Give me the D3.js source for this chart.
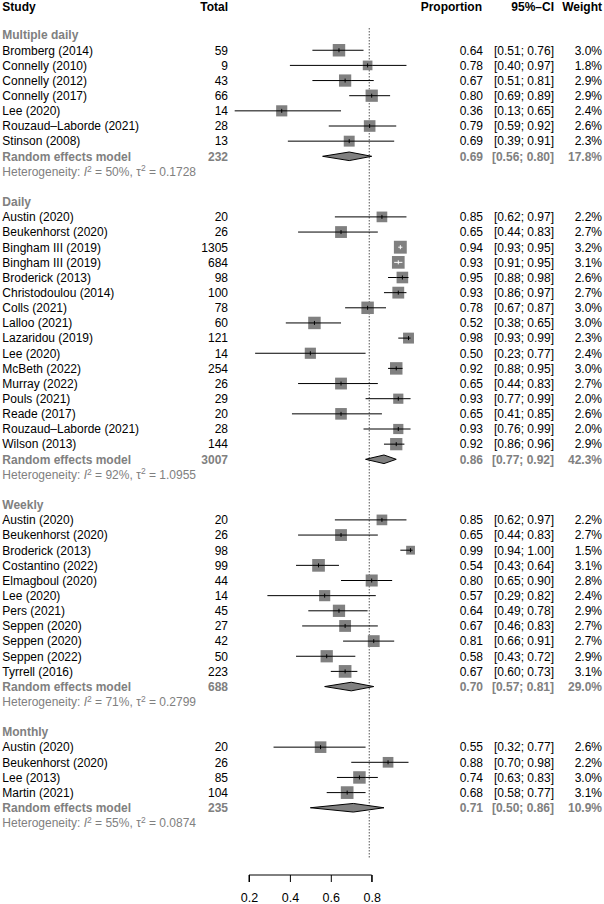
<!DOCTYPE html>
<html><head><meta charset="utf-8">
<script src="https://cdn.jsdelivr.net/npm/d3@7"></script>
<style>
html,body{margin:0;padding:0;background:#fff;}
svg{display:block;font-family:"Liberation Sans",Arial,Helvetica,sans-serif;}
</style></head>
<body>
<script>
// ---------- DATA ----------
const groups = ["Multiple daily", "Daily", "Weekly", "Monthly"];

const mdStudies = ["Bromberg (2014)","Connelly (2010)","Connelly (2012)","Connelly (2017)","Lee (2020)","Rouzaud\u2013Laborde (2021)","Stinson (2008)"];
const mdTotal   = [59, 9, 43, 66, 14, 28, 13];
const mdProp    = [0.64, 0.78, 0.67, 0.80, 0.36, 0.79, 0.69];
const mdLow     = [0.51, 0.40, 0.51, 0.69, 0.13, 0.59, 0.39];
const mdHigh    = [0.76, 0.97, 0.81, 0.89, 0.65, 0.92, 0.91];
const mdWeight  = [3.0, 1.8, 2.9, 2.9, 2.4, 2.6, 2.3];

const dStudies = ["Austin (2020)","Beukenhorst (2020)","Bingham III (2019)","Bingham III (2019)","Broderick (2013)","Christodoulou (2014)","Colls (2021)","Lalloo (2021)","Lazaridou (2019)","Lee (2020)","McBeth (2022)","Murray (2022)","Pouls (2021)","Reade (2017)","Rouzaud\u2013Laborde (2021)","Wilson (2013)"];
const dTotal   = [20, 26, 1305, 684, 98, 100, 78, 60, 121, 14, 254, 26, 29, 20, 28, 144];
const dProp    = [0.85, 0.65, 0.94, 0.93, 0.95, 0.93, 0.78, 0.52, 0.98, 0.50, 0.92, 0.65, 0.93, 0.65, 0.93, 0.92];
const dLow     = [0.62, 0.44, 0.93, 0.91, 0.88, 0.86, 0.67, 0.38, 0.93, 0.23, 0.88, 0.44, 0.77, 0.41, 0.76, 0.86];
const dHigh    = [0.97, 0.83, 0.95, 0.95, 0.98, 0.97, 0.87, 0.65, 0.99, 0.77, 0.95, 0.83, 0.99, 0.85, 0.99, 0.96];
const dWeight  = [2.2, 2.7, 3.2, 3.1, 2.6, 2.7, 3.0, 3.0, 2.3, 2.4, 3.0, 2.7, 2.0, 2.6, 2.0, 2.9];

const wStudies = ["Austin (2020)","Beukenhorst (2020)","Broderick (2013)","Costantino (2022)","Elmagboul (2020)","Lee (2020)","Pers (2021)","Seppen (2020)","Seppen (2020)","Seppen (2022)","Tyrrell (2016)"];
const wTotal   = [20, 26, 98, 99, 44, 14, 45, 27, 42, 50, 223];
const wProp    = [0.85, 0.65, 0.99, 0.54, 0.80, 0.57, 0.64, 0.67, 0.81, 0.58, 0.67];
const wLow     = [0.62, 0.44, 0.94, 0.43, 0.65, 0.29, 0.49, 0.46, 0.66, 0.43, 0.60];
const wHigh    = [0.97, 0.83, 1.00, 0.64, 0.90, 0.82, 0.78, 0.83, 0.91, 0.72, 0.73];
const wWeight  = [2.2, 2.7, 1.5, 3.1, 2.8, 2.4, 2.9, 2.7, 2.7, 2.9, 3.1];

const mStudies = ["Austin (2020)","Beukenhorst (2020)","Lee (2013)","Martin (2021)"];
const mTotal   = [20, 26, 85, 104];
const mProp    = [0.55, 0.88, 0.74, 0.68];
const mLow     = [0.32, 0.70, 0.63, 0.58];
const mHigh    = [0.77, 0.98, 0.83, 0.77];
const mWeight  = [2.6, 2.2, 3.0, 3.1];

const reTotal  = [232, 3007, 688, 235];
const reProp   = [0.69, 0.86, 0.70, 0.71];
const reLow    = [0.56, 0.77, 0.57, 0.50];
const reHigh   = [0.80, 0.92, 0.81, 0.86];
const reWeight = [17.8, 42.3, 29.0, 10.9];
const hetI2    = ["50%", "92%", "71%", "55%"];
const hetTau2  = ["0.1728", "1.0955", "0.2799", "0.0874"];

const overallEstimate = 0.788;
const tickValues = [0.2, 0.4, 0.6, 0.8];

// ---------- BUILD ROWS ----------
const studySets = [
  [mdStudies, mdTotal, mdProp, mdLow, mdHigh, mdWeight],
  [dStudies, dTotal, dProp, dLow, dHigh, dWeight],
  [wStudies, wTotal, wProp, wLow, wHigh, wWeight],
  [mStudies, mTotal, mProp, mLow, mHigh, mWeight]
];
const rows = [];
rows.push({type:"header"});
groups.forEach((g, gi) => {
  rows.push({type:"blank"});
  rows.push({type:"group", label:g});
  const [s, t, p, lo, hi, w] = studySets[gi];
  s.forEach((name, i) => rows.push({type:"study", label:name, total:t[i], prop:p[i], low:lo[i], high:hi[i], weight:w[i]}));
  rows.push({type:"re", label:"Random effects model", total:reTotal[gi], prop:reProp[gi], low:reLow[gi], high:reHigh[gi], weight:reWeight[gi]});
  rows.push({type:"het", i2:hetI2[gi], tau2:hetTau2[gi]});
});

// ---------- LAYOUT ----------
const W = 604, H = 904;
const fs = 12;
const y = d3.scaleLinear().domain([0, 1]).range([4.8, 4.8 + 15.15]);
const x = d3.scaleLinear().domain([0.2, 0.8]).range([249, 371.7]);
const gray = "#808080";
const fmt2 = d3.format(".2f");
const fmtW = d3.format(".1f");

const svg = d3.select("body").append("svg").attr("width", W).attr("height", H);

// reference line
svg.append("line")
  .attr("x1", x(overallEstimate)).attr("x2", x(overallEstimate))
  .attr("y1", 28).attr("y2", 858)
  .attr("stroke", "#555").attr("stroke-width", 1).attr("stroke-dasharray", "1.5,1.5");

const colStudy = 2.3, colTotal = 228, colProp = 483, colCI = 554, colW = 602;

rows.forEach((r, i) => {
  const yc = r.type === "header" ? 7 : y(i);
  const g = svg.append("g").attr("transform", `translate(0,${yc})`);
  const txt = (xx, s, anchor, opts = {}) => g.append("text")
      .attr("x", xx).attr("dy", "0.36em")
      .attr("text-anchor", anchor)
      .attr("font-size", opts.size || fs)
      .attr("font-weight", opts.bold ? "bold" : "normal")
      .attr("fill", opts.fill || "#000")
      .text(s);
  if (r.type === "header") {
    txt(colStudy, "Study", "start", {bold:true});
    txt(colTotal, "Total", "end", {bold:true});
    txt(colProp - 1, "Proportion", "end", {bold:true});
    txt(colCI, "95%\u2013CI", "end", {bold:true});
    txt(colW, "Weight", "end", {bold:true});
  } else if (r.type === "group") {
    txt(colStudy, r.label, "start", {bold:true, fill:gray});
  } else if (r.type === "study") {
    txt(colStudy, r.label, "start");
    txt(colTotal, r.total, "end");
    txt(colProp, fmt2(r.prop), "end");
    txt(colCI, `[${fmt2(r.low)}; ${fmt2(r.high)}]`, "end");
    txt(colW, fmtW(r.weight) + "%", "end");
    // CI line
    g.append("line").attr("x1", x(r.low)).attr("x2", x(r.high)).attr("y1", 0).attr("y2", 0)
      .attr("stroke", "#000").attr("stroke-width", 1);
    const s = 7.2 * Math.sqrt(r.weight);
    g.append("rect").attr("x", x(r.prop) - s/2).attr("y", -s/2).attr("width", s).attr("height", s)
      .attr("fill", gray);
    const inside = x(r.low) >= x(r.prop) - s/2 && x(r.high) <= x(r.prop) + s/2;
    const c = inside ? "#fff" : "#000";
    g.append("line").attr("x1", Math.max(x(r.low), x(r.prop) - s/2)).attr("x2", Math.min(x(r.high), x(r.prop) + s/2))
      .attr("y1", 0).attr("y2", 0).attr("stroke", c).attr("stroke-width", 1);
    g.append("line").attr("x1", x(r.prop)).attr("x2", x(r.prop)).attr("y1", -2).attr("y2", 2)
      .attr("stroke", c).attr("stroke-width", 1);
  } else if (r.type === "re") {
    txt(colStudy, r.label, "start", {bold:true, fill:gray});
    txt(colTotal, r.total, "end", {bold:true, fill:gray});
    txt(colProp, fmt2(r.prop), "end", {bold:true, fill:gray});
    txt(colCI, `[${fmt2(r.low)}; ${fmt2(r.high)}]`, "end", {bold:true, fill:gray});
    txt(colW, fmtW(r.weight) + "%", "end", {bold:true, fill:gray});
    const h = 4.3;
    g.append("path")
      .attr("d", `M${x(r.low)},0 L${x(r.prop)},${-h} L${x(r.high)},0 L${x(r.prop)},${h} Z`)
      .attr("fill", gray).attr("stroke", "#000").attr("stroke-width", 1);
  } else if (r.type === "het") {
    const t = g.append("text").attr("x", colStudy).attr("dy", "0.36em")
      .attr("font-size", 12).attr("fill", gray);
    t.append("tspan").text("Heterogeneity: ");
    t.append("tspan").attr("font-style", "italic").text("I");
    t.append("tspan").attr("font-size", 8.5).attr("dy", "-0.5em").text("2");
    t.append("tspan").attr("dy", "0.35em").text(" = " + r.i2 + ", \u03c4");
    t.append("tspan").attr("font-size", 8.5).attr("dy", "-0.5em").text("2");
    t.append("tspan").attr("dy", "0.35em").text(" = " + r.tau2);
  }
});

// axis
const axis = d3.axisBottom(x).tickValues(tickValues).tickSize(7).tickFormat(d3.format(".1f"));
const ax = svg.append("g").attr("transform", "translate(0,875)").call(axis);
ax.select(".domain").attr("d", `M${x(0.2)},7V0H${x(0.8)}V7`).attr("stroke", "#000");
ax.selectAll(".tick line").attr("stroke", "#000");
ax.selectAll(".tick text").attr("font-size", 12.5).attr("font-family", "Liberation Sans, Arial, sans-serif")
  .attr("fill", "#000").attr("y", 18);
</script>
</body></html>
